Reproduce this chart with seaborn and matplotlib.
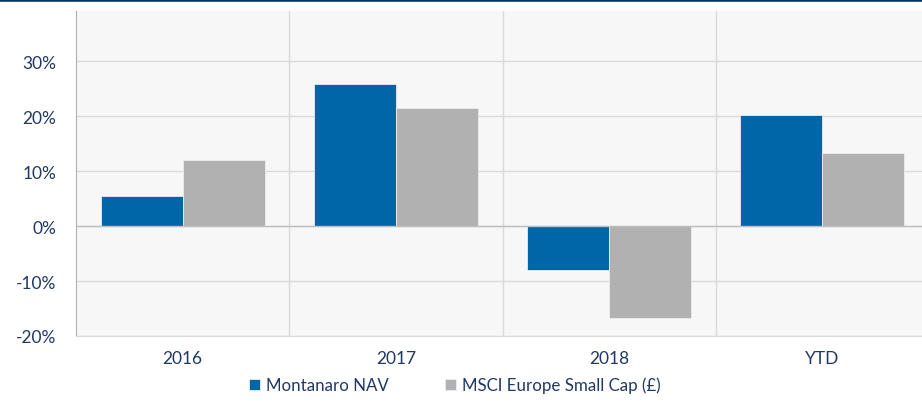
import matplotlib
matplotlib.use("Agg")
import matplotlib.pyplot as plt
from matplotlib.ticker import PercentFormatter, FixedLocator
import pandas as pd
import seaborn as sns

# Annual returns
periods = ["2016", "2017", "2018", "YTD"]
series_names = ["Montanaro NAV", "MSCI Europe Small Cap (£)"]
montanaro = [5.4, 25.9, -8.0, 20.1]
msci = [12.0, 21.4, -16.7, 13.3]

df = pd.DataFrame({
    "period": periods * 2,
    "series": [series_names[0]] * 4 + [series_names[1]] * 4,
    "value": montanaro + msci,
})

sns.set_style("white")
plt.rcParams["font.family"] = ["Lato", "DejaVu Sans"]
plt.rcParams["axes.unicode_minus"] = False
navy = "#1f3864"
palette = {series_names[0]: "#0066a6", series_names[1]: "#b1b1b1"}

fig = plt.figure(figsize=(9.22, 4.06), dpi=100)
ax = fig.add_axes([76 / 922, 69 / 406, (929 - 76) / 922, 325 / 406])
ax.set_facecolor("#f7f7f7")

sns.barplot(data=df, x="period", y="value", hue="series", order=periods,
            hue_order=series_names, palette=palette, width=0.77,
            edgecolor="#e8eef4", linewidth=0.6, saturation=1, ax=ax)

ax.set_ylim(-20, 39.1)
ax.set_xlim(-0.5, 3.5)
ax.set_yticks([-20, -10, 0, 10, 20, 30])
ax.yaxis.set_major_formatter(PercentFormatter(decimals=0))
ax.xaxis.set_minor_locator(FixedLocator([0.5, 1.5, 2.5]))
ax.grid(True, axis="y", which="major", color="#d9d9d9", lw=1)
ax.grid(True, axis="x", which="minor", color="#d9d9d9", lw=1)
ax.set_axisbelow(True)
ax.axhline(0, color="#bfbfbf", lw=1, zorder=1.5)

for s in ["top", "right"]:
    ax.spines[s].set_visible(False)
ax.spines["left"].set_color("#b0b0b0")
ax.spines["bottom"].set_color("#d9d9d9")

ax.tick_params(axis="y", which="major", length=6, color="#d9d9d9",
               labelsize=12.5, labelcolor=navy, pad=8)
ax.tick_params(axis="x", which="major", length=0, labelsize=12.5,
               labelcolor=navy, pad=10)
ax.tick_params(axis="x", which="minor", length=0)
ax.set_xlabel("")
ax.set_ylabel("")

ax.legend(loc="center", bbox_to_anchor=(455 / 922, 20 / 406),
          bbox_transform=fig.transFigure, ncol=2, frameon=False,
          fontsize=12.2, labelcolor=navy, handlelength=0.65, handleheight=0.65,
          handletextpad=0.35, columnspacing=3.3)

# dark rule along the top edge
fig.add_artist(plt.Line2D([0, 1], [1, 1], transform=fig.transFigure,
                          color="#003366", lw=4))

fig.savefig("out.png", dpi=100)
